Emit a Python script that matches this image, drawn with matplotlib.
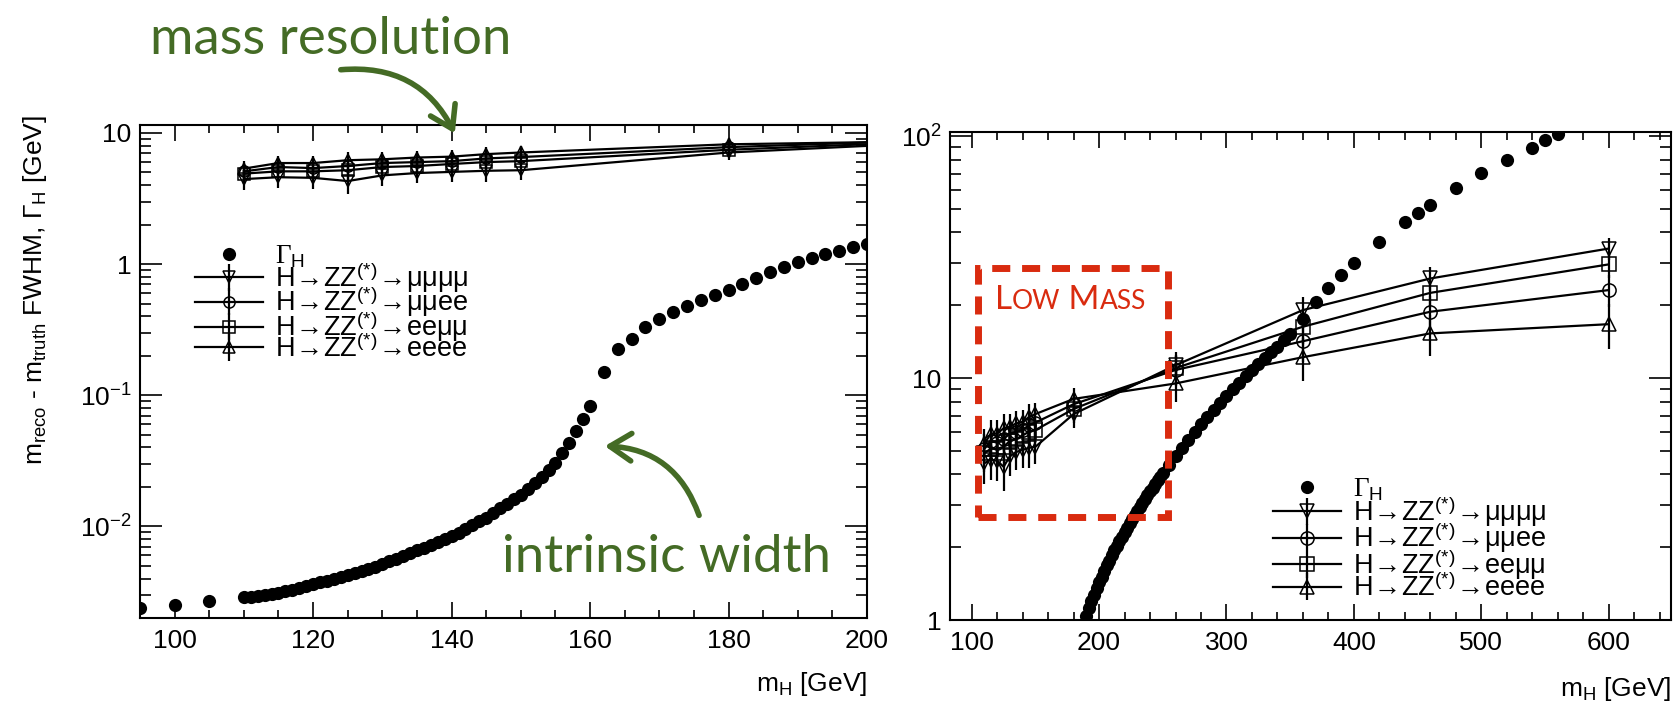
import numpy as np
import matplotlib.pyplot as plt
from matplotlib.ticker import MultipleLocator, LogLocator, FuncFormatter, NullFormatter
from matplotlib.patches import Rectangle, FancyArrowPatch

plt.rcParams['font.family'] = ['Liberation Sans', 'DejaVu Sans']
plt.rcParams['mathtext.fontset'] = 'custom'
plt.rcParams['mathtext.rm'] = 'Liberation Sans'
plt.rcParams['mathtext.it'] = 'Liberation Sans:italic'
plt.rcParams['mathtext.bf'] = 'Liberation Sans:bold'

# Higgs natural width, low mass scan (GeV)
gam_m_low = [95, 100, 105,
             110, 111, 112, 113, 114, 115, 116, 117, 118, 119,
             120, 121, 122, 123, 124, 125, 126, 127, 128, 129,
             130, 131, 132, 133, 134, 135, 136, 137, 138, 139,
             140, 141, 142, 143, 144, 145, 146, 147, 148, 149,
             150, 151, 152, 153, 154, 155, 156, 157, 158, 159, 160,
             162, 164, 166, 168, 170, 172, 174, 176, 178, 180,
             182, 184, 186, 188, 190, 192, 194, 196, 198, 200]
gam_low = [0.0024, 0.0025, 0.0027,
           0.00287, 0.00291, 0.00296, 0.00301, 0.00306, 0.00312, 0.00320, 0.00330, 0.00340, 0.00351,
           0.00363, 0.00374, 0.00386, 0.00398, 0.00410, 0.00423, 0.00440, 0.00457, 0.00475, 0.00494,
           0.00513, 0.00540, 0.00568, 0.00596, 0.00625, 0.00655, 0.00688, 0.00722, 0.00760, 0.00798,
           0.00838, 0.00894, 0.00955, 0.0102, 0.0109, 0.0116, 0.0126, 0.0137, 0.0149, 0.0161,
           0.0174, 0.0194, 0.0215, 0.0240, 0.0270, 0.0305, 0.0360, 0.0430, 0.0530, 0.0660, 0.0831,
           0.150, 0.225, 0.267, 0.33, 0.383, 0.43, 0.48, 0.53, 0.58, 0.631,
           0.70, 0.78, 0.87, 0.95, 1.04, 1.11, 1.19, 1.27, 1.35, 1.43]

# Higgs natural width, full range
gam_m_high = [186, 188, 190, 192, 194, 196, 198, 200, 202, 204, 206, 208, 210,
              212, 214, 216, 218, 220, 222, 224, 226, 228, 230, 232, 234, 236,
              238, 240, 242, 244, 246, 248, 250,
              255, 260, 265, 270, 275, 280, 285, 290, 295, 300, 305, 310, 315,
              320, 325, 330, 335, 340, 345, 350,
              360, 370, 380, 390, 400, 420, 440, 450, 460, 480, 500, 520, 540, 550, 560]
gam_high = [0.87, 0.95, 1.04, 1.12, 1.20, 1.27, 1.35, 1.43, 1.51, 1.59, 1.68, 1.76, 1.85,
            1.94, 2.03, 2.12, 2.21, 2.31, 2.41, 2.51, 2.61, 2.71, 2.82, 2.93, 3.04, 3.16,
            3.28, 3.40, 3.52, 3.65, 3.78, 3.91, 4.04,
            4.39, 4.76, 5.15, 5.55, 5.98, 6.43, 6.90, 7.39, 7.90, 8.43, 9.00, 9.57, 10.2,
            10.8, 11.4, 12.1, 12.8, 13.5, 14.3, 15.2,
            17.5, 20.7, 23.5, 26.7, 29.8, 36.6, 44.2, 48.2, 51.9, 60.8, 70.5, 79.6, 89.5, 96.3, 102.5]

# reconstructed mass resolution (FWHM) per channel
res_m = [110, 115, 120, 125, 130, 135, 140, 145, 150, 180, 260, 360, 460, 600]
res_4mu = [4.45, 4.6, 4.55, 4.3, 4.75, 4.95, 5.05, 5.15, 5.2, 7.1, 11.3, 19.1, 25.8, 34.3]
res_2mu2e = [5.1, 5.5, 5.4, 5.6, 5.9, 6.0, 6.1, 6.4, 6.55, 7.8, 10.8, 14.2, 18.8, 23.1]
res_2e2mu = [4.9, 5.1, 5.1, 5.2, 5.5, 5.6, 5.8, 6.0, 6.1, 7.45, 11.0, 16.3, 22.5, 29.5]
res_4e = [5.35, 5.9, 5.9, 6.2, 6.3, 6.5, 6.6, 6.9, 7.1, 8.2, 9.5, 12.2, 15.3, 16.7]
res_err = [0.8, 0.8, 0.8, 0.9, 0.8, 0.8, 0.8, 0.9, 0.8, 0.9, 1.5, 2.5, 3.0, 3.5]

lab_gam = r'Γ$_\mathrm{H}$'
lab_4mu = r'H$\!\rightarrow\!$ZZ$^{(*)}$$\!\rightarrow\!$μμμμ'
lab_2mu2e = r'H$\!\rightarrow\!$ZZ$^{(*)}$$\!\rightarrow\!$μμee'
lab_2e2mu = r'H$\!\rightarrow\!$ZZ$^{(*)}$$\!\rightarrow\!$eeμμ'
lab_4e = r'H$\!\rightarrow\!$ZZ$^{(*)}$$\!\rightarrow\!$eeee'

green = '#446b25'
red = '#d92b0f'


def log_lab(v, pos):
    if np.isclose(v, 1):
        return '1'
    if np.isclose(v, 10):
        return '10'
    return r'$10^{%d}$' % round(np.log10(v))


def draw(ax, mh, gam, ms_res):
    h0, = ax.plot(mh, gam, 'o', color='k', ms=9.5, mew=0, zorder=5)
    hs = [h0]
    for vals, mk in [(res_4mu, 'v'), (res_2mu2e, 'o'), (res_2e2mu, 's'), (res_4e, '^')]:
        h = ax.errorbar(res_m, vals, yerr=res_err, color='k', lw=1.6, elinewidth=1.6,
                        marker=mk, ms=ms_res, mfc='none', mec='k', mew=1.1, capsize=0)
        hs.append(h)
    ax.set_yscale('log')
    ax.yaxis.set_major_formatter(FuncFormatter(log_lab))
    ax.yaxis.set_minor_locator(LogLocator(base=10, subs=np.arange(2, 10)))
    ax.yaxis.set_minor_formatter(NullFormatter())
    ax.tick_params(which='both', direction='in', top=True, right=True, labelsize=19, width=1.2)
    ax.tick_params(axis='x', which='major', length=11.5, pad=8)
    ax.tick_params(axis='x', which='minor', length=5.8)
    ax.tick_params(axis='y', which='major', length=16, pad=6)
    ax.tick_params(axis='y', which='minor', length=8)
    for s in ax.spines.values():
        s.set_linewidth(1.5)
    return hs


fig = plt.figure(figsize=(16.75, 7.06), dpi=100)
ax1 = fig.add_axes([0.0836, 0.1246, 0.434, 0.6983])
ax2 = fig.add_axes([0.5672, 0.1218, 0.4304, 0.6912])
labels = [lab_gam, lab_4mu, lab_2mu2e, lab_2e2mu, lab_4e]

# left: low mass region
hs1 = draw(ax1, gam_m_low, gam_low, 8)
ax1.set_xlim(95, 200)
ax1.set_ylim(0.002, 11.5)
ax1.xaxis.set_major_locator(MultipleLocator(20))
ax1.xaxis.set_minor_locator(MultipleLocator(5))
ax1.set_xlabel(r'm$_\mathrm{H}$ [GeV]', fontsize=19, loc='right')
ax1.xaxis.set_label_coords(1.0, -0.105)
ax1.set_ylabel(r'm$_\mathrm{reco}$ - m$_\mathrm{truth}$ FWHM, Γ$_\mathrm{H}$ [GeV]',
               fontsize=19, loc='top')
ax1.yaxis.set_label_coords(-0.125, 1.02)
leg1 = ax1.legend(hs1, labels,
                  loc='upper left', bbox_to_anchor=(0.076, 0.76), frameon=False,
                  fontsize=19.5, handlelength=2.5, handletextpad=0.45,
                  labelspacing=-0.36, borderpad=0, borderaxespad=0)

# right: full mass range
hs2 = draw(ax2, gam_m_high, gam_high, 9.5)
ax2.set_xlim(83, 649)
ax2.set_ylim(1, 104)
ax2.xaxis.set_major_locator(MultipleLocator(100))
ax2.xaxis.set_minor_locator(MultipleLocator(20))
ax2.set_xlabel(r'm$_\mathrm{H}$ [GeV]', fontsize=19, loc='right')
ax2.xaxis.set_label_coords(1.0, -0.112)
leg2 = ax2.legend(hs2, labels,
                  loc='upper left', bbox_to_anchor=(0.448, 0.295), frameon=False,
                  fontsize=19.5, handlelength=2.5, handletextpad=0.45,
                  labelspacing=-0.3, borderpad=0, borderaxespad=0)
for leg in (leg1, leg2):
    leg.get_texts()[0].set_fontfamily(['Liberation Serif'])

# low mass box
box = Rectangle((105, 2.67), 254 - 105, 28.5 - 2.67, fill=False, ec=red, lw=5,
                linestyle=(0, (2.6, 1.7)), clip_on=False, zorder=6)
ax2.add_patch(box)
t1 = ax2.text(118, 19.3, 'L', color=red, fontsize=24, family=['Lato'], va='baseline')
t2 = ax2.annotate('OW', xy=(1, 0), xycoords=t1, xytext=(0, 1), textcoords='offset points',
                  color=red, fontsize=19, family=['Lato'], va='bottom')
t3 = ax2.annotate(' M', xy=(1, 0), xycoords=t2, xytext=(0, -1), textcoords='offset points',
                  color=red, fontsize=24, family=['Lato'], va='bottom')
t4 = ax2.annotate('ASS', xy=(1, 0), xycoords=t3, xytext=(0, 1), textcoords='offset points',
                  color=red, fontsize=19, family=['Lato'], va='bottom')

# green notes
fig.text(150 / 1675, 1 - 54 / 706, 'mass resolution', color=green, fontsize=38,
         family=['Lato'], va='baseline')
fig.text(502 / 1675, 1 - 572 / 706, 'intrinsic width', color=green, fontsize=38,
         family=['Lato'], va='baseline')
a1 = FancyArrowPatch((338 / 1675, 1 - 70 / 706), (456 / 1675, 1 - 136 / 706),
                     transform=fig.transFigure, connectionstyle='arc3,rad=-0.35',
                     arrowstyle='->,head_length=0.7,head_width=0.45', mutation_scale=22,
                     lw=4, color=green)
a2 = FancyArrowPatch((700 / 1675, 1 - 518 / 706), (602 / 1675, 1 - 446 / 706),
                     transform=fig.transFigure, connectionstyle='arc3,rad=0.35',
                     arrowstyle='->,head_length=0.7,head_width=0.45', mutation_scale=22,
                     lw=4, color=green)
fig.add_artist(a1)
fig.add_artist(a2)

fig.savefig('out.png', dpi=100)
